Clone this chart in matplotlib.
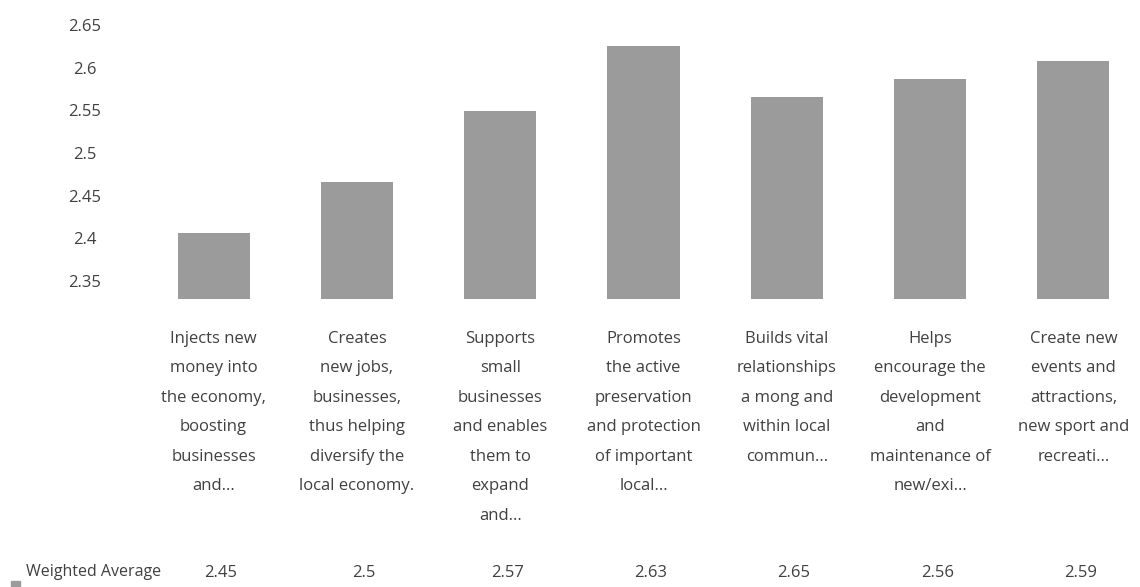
import numpy as np
import matplotlib
matplotlib.use("Agg")
import matplotlib.pyplot as plt
from matplotlib.patches import Rectangle

plt.rcParams['font.family'] = ['Open Sans', 'DejaVu Sans']

#Chart data
categories = [
    "Injects new\nmoney into\nthe economy,\nboosting\nbusinesses\nand...",
    "Creates\nnew jobs,\nbusinesses,\nthus helping\ndiversify the\nlocal economy.",
    "Supports\nsmall\nbusinesses\nand enables\nthem to\nexpand\nand...",
    "Promotes\nthe active\npreservation\nand protection\nof important\nlocal...",
    "Builds vital\nrelationships\na mong and\nwithin local\ncommun...",
    "Helps\nencourage the\ndevelopment\nand\nmaintenance of\nnew/exi...",
    "Create new\nevents and\nattractions,\nnew sport and\nrecreati...",
]
bar_values = [2.406, 2.466, 2.549, 2.625, 2.566, 2.587, 2.608]
table_values = ["2.45", "2.5", "2.57", "2.63", "2.65", "2.56", "2.59"]
y_ticks = [2.35, 2.4, 2.45, 2.5, 2.55, 2.6, 2.65]
y_tick_labels = ["2.35", "2.4", "2.45", "2.5", "2.55", "2.6", "2.65"]
row_label = "Weighted Average"

text_color = "#404040"
bar_color = "#9b9b9b"

W, H = 1140, 587
fig = plt.figure(figsize=(W / 100, H / 100), dpi=100)

#Axes placed so that the plot area matches the reference
left, right = 142 / W, 1145 / W
bottom, top = 1 - 299 / H, 1 - 25 / H
ax = fig.add_axes([left, bottom, right - left, top - bottom])

x = np.arange(len(categories))
ax.bar(x, bar_values, width=0.503, color=bar_color, bottom=0)
ax.set_xlim(-0.5, len(categories) - 0.5)
ax.set_ylim(2.329, 2.65)

#Y axis labels, centred like the reference
ax.set_yticks(y_ticks)
ax.set_yticklabels(y_tick_labels, fontsize=12, color=text_color, ha="center")
ax.tick_params(axis="y", length=0, pad=41)

#Category labels, wrapped
ax.tick_params(axis="x", length=0, pad=23)
ax.set_xticks(x)
ax.set_xticklabels(categories, fontsize=12, color=text_color,
                   linespacing=2.12, va="top")

for s in ax.spines.values():
    s.set_visible(False)

#Data table row
trans = matplotlib.transforms.blended_transform_factory(ax.transData, fig.transFigure)
for i, v in enumerate(table_values):
    ax.text(x[i] + 0.05, 1 - 573 / H, v, transform=trans, ha="center",
            va="center", fontsize=12, color=text_color)
fig.text(26 / W, 1 - 572 / H, row_label, ha="left", va="center", fontsize=11.5,
         color=text_color)
fig.patches.append(Rectangle((11 / W, 0), 9 / W, 6 / H, transform=fig.transFigure,
                             color=bar_color))

fig.savefig("out.png", dpi=100)
